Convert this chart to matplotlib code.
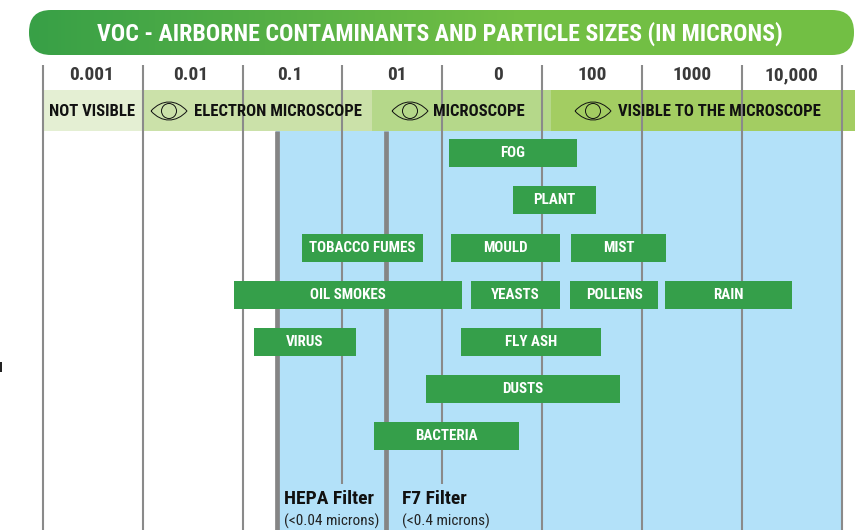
import matplotlib
matplotlib.use('Agg')
import matplotlib.pyplot as plt
import numpy as np
from matplotlib.colors import LinearSegmentedColormap
from matplotlib.patches import FancyBboxPatch, Circle, PathPatch
from matplotlib.path import Path

NARROW = ['Roboto Condensed', 'DejaVu Sans']

# Data (x and y in picture pixels)
title = 'VOC - AIRBORNE CONTAMINANTS AND PARTICLE SIZES (IN MICRONS)'
tick_labels = ['0.001', '0.01', '0.1', '01', '0', '100', '1000', '10,000']
tick_x = [92, 191, 290, 397, 498, 592, 692, 791]
grid_x = [42.5, 142.5, 242.5, 342, 442, 542, 642, 742, 842]
grid_end = [530, 530, 530, 484, 484, 530, 530, 530, 530]

band_labels = ['NOT VISIBLE', 'ELECTRON MICROSCOPE', 'MICROSCOPE', 'VISIBLE TO THE MICROSCOPE']
band_start = [43, 143, 372, 551]
band_end = [143, 372, 551, 855]
band_colors = ['#e4efd3', '#cbe1a9', '#b5d88a', '#a3cd62']
band_text_x = [92.5, 277.5, 478.5, 719]
eye_x = [None, 169, 410, 593]

bar_names = ['FOG', 'PLANT', 'TOBACCO FUMES', 'MOULD', 'MIST', 'OIL SMOKES', 'YEASTS',
             'POLLENS', 'RAIN', 'VIRUS', 'FLY ASH', 'DUSTS', 'BACTERIA']
bar_start = [449, 513, 302, 451, 571, 234, 471, 570, 665, 254, 461, 426, 374]
bar_end = [577, 596, 423, 560, 666, 462, 560, 658, 792, 356, 601, 620, 519]
bar_top = [139, 186, 234, 234, 234, 281, 281, 281, 281, 328, 328, 375, 422]

filter_names = ['HEPA Filter', 'F7 Filter']
filter_notes = ['(<0.04 microns)', '(<0.4 microns)']
filter_x = [277, 386]
filter_text_x = [284, 402]


def draw_eye(ax, cx, cy):
    # Outline of an eye: two curves and the iris
    w, h = 18, 12
    verts = [(cx - w, cy), (cx - w * 0.4, cy - h), (cx + w * 0.4, cy - h), (cx + w, cy),
             (cx + w * 0.4, cy + h), (cx - w * 0.4, cy + h), (cx - w, cy)]
    codes = [Path.MOVETO] + [Path.CURVE4] * 6
    ax.add_patch(PathPatch(Path(verts, codes), fc='none', ec='#111111', lw=0.7, zorder=5))
    ax.add_patch(Circle((cx, cy), 7.5, fc='none', ec='#111111', lw=0.7, zorder=5))


def main():
    fig = plt.figure(figsize=(8.55, 5.30), dpi=100)
    ax = fig.add_axes([0, 0, 1, 1])

    # Header pill with the green gradient
    pill = FancyBboxPatch((29 + 22, 10 + 22), 825 - 44, 45 - 44,
                          boxstyle='round,pad=22,rounding_size=22',
                          fc='none', ec='none', zorder=2)
    ax.add_patch(pill)
    cmap = LinearSegmentedColormap.from_list('head', ['#38a047', '#72bf44'])
    grad = np.clip(np.linspace(0, 1.7, 256), 0, 1).reshape(1, -1)
    img = ax.imshow(grad, extent=(29, 855, 55, 10), cmap=cmap, aspect='auto', zorder=2)
    img.set_clip_path(pill)
    ax.set_xlim(0, 855)
    ax.set_ylim(530, 0)
    ax.axis('off')
    ax.text(439.5, 33.5, title, color='white', fontsize=17.2, fontweight='bold',
            family=NARROW, ha='center', va='center', zorder=3)

    # Blue zone that the filters catch
    ax.fill_between([276, 841], 131, 530, color='#b3e1f9', lw=0, zorder=1)

    # Visibility bands
    for start, end, color in zip(band_start, band_end, band_colors):
        ax.fill_between([start, end], 90, 130.5, color=color, lw=0, zorder=1)

    # Grid lines
    ax.vlines(grid_x, 65, grid_end, color='#8a8a8a', lw=1.5, zorder=3)
    ax.vlines(filter_x, 131, 530, color='#858585', lw=3.4, zorder=3)

    for label, x in zip(tick_labels, tick_x):
        ax.text(x, 75, label, color='#3a3a3a', fontsize=14, fontweight='bold',
                family=NARROW, ha='center', va='center', zorder=4)

    for label, x, ex in zip(band_labels, band_text_x, eye_x):
        ax.text(x, 111.5, label, color='#111111', fontsize=12, fontweight='bold',
                family=NARROW, ha='center', va='center', zorder=5)
        if ex is not None:
            draw_eye(ax, ex, 111)

    # Particle size bars
    for name, start, end, top in zip(bar_names, bar_start, bar_end, bar_top):
        ax.barh(top + 14, end - start, left=start, height=28, color='#359f4a', zorder=4)
        ax.text((start + end) / 2, top + 14, name, color='white', fontsize=10.8,
                fontweight='bold', family=NARROW, ha='center', va='center', zorder=5)

    # Filter captions
    for name, note, x in zip(filter_names, filter_notes, filter_text_x):
        ax.text(x, 499, name, color='#111111', fontsize=14, fontweight='bold',
                family=NARROW, ha='left', va='center', zorder=5)
        ax.text(x, 521, note, color='#222222', fontsize=11, family=NARROW,
                ha='left', va='center', zorder=5)

    # Small black mark on the left edge
    ax.fill_between([0, 2], 362, 372, color='#222222', lw=0, zorder=5)

    fig.savefig('out.png', dpi=100)


main()
